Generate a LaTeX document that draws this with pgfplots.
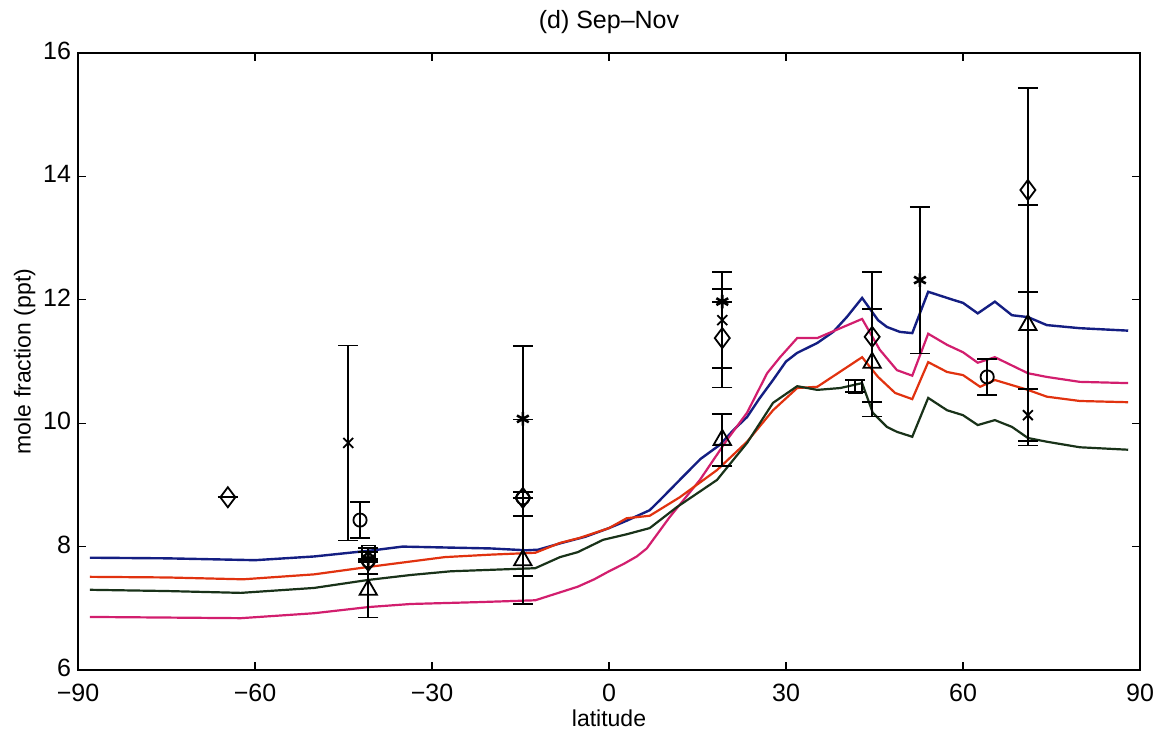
\documentclass[border=0pt]{standalone}
\usepackage{pgfplots}
\pgfplotsset{compat=1.18}
\usepackage{fontspec}
\setmainfont{Liberation Sans}
\definecolor{cblue}{RGB}{20,30,130}
\definecolor{cred}{RGB}{225,50,15}
\definecolor{cpink}{RGB}{210,30,110}
\definecolor{cgreen}{RGB}{25,50,25}
\begin{document}
\begin{tikzpicture}
\useasboundingbox (-39pt,-32pt) rectangle (541pt,335pt);
\begin{axis}[
  scale only axis, width=531pt, height=308.5pt,
  xmin=-90, xmax=90, ymin=6, ymax=16,
  xtick={-90,-60,...,90}, ytick={6,8,...,16},
  xticklabels={−90,−60,−30,0,30,60,90},
  tick align=inside, major tick length=4pt,
  axis line style={line width=0.7pt}, tick style={line width=0.6pt, black},
  /pgf/number format/assume math mode=true,
  ticklabel style={font=\fontsize{12.5}{14}\selectfont},
  xticklabel style={yshift=-3.5pt},
  yticklabel style={yshift=1pt},
  xlabel={latitude}, ylabel={mole fraction (ppt)},
  label style={font=\fontsize{11.5}{13}\selectfont},
  xlabel style={yshift=3pt},
  ylabel style={yshift=-3pt},
  title={(d) Sep\textendash Nov},
  title style={font=\fontsize{12.5}{14}\selectfont, yshift=0pt},
  clip=false,
]
% model lines
\addplot[cblue, line width=1.2pt] coordinates {(-88,7.82) (-75,7.81) (-60,7.78) (-50,7.84) (-40,7.94) (-35,8.0) (-30,7.99) (-20,7.97) (-14,7.94) (-12,7.95) (-8,8.06) (-4,8.16) (0,8.3) (3,8.42) (6.9,8.59) (8.6,8.75) (12.5,9.13) (15.5,9.42) (18.8,9.65) (21,9.88) (23.4,10.1) (25.5,10.4) (27.8,10.7) (30,11.0) (31.9,11.14) (35.3,11.3) (38,11.48) (40.3,11.72) (42.9,12.03) (45.6,11.67) (47.1,11.56) (49.3,11.48) (51.4,11.46) (54.1,12.13) (58.3,12.0) (60,11.95) (62.5,11.78) (65.4,11.97) (68.3,11.75) (71,11.72) (74.2,11.59) (79.8,11.54) (88,11.5)};
\addplot[cpink, line width=1.1pt] coordinates {(-88,6.86) (-75,6.85) (-62.4,6.84) (-50,6.92) (-40.8,7.02) (-33.6,7.07) (-22.2,7.1) (-12.5,7.13) (-5.3,7.35) (-2.5,7.47) (0,7.6) (2.5,7.72) (4.7,7.84) (6.4,7.97) (10.3,8.48) (15.4,9.08) (20,9.73) (23.4,10.17) (26.8,10.81) (29,11.07) (31.9,11.38) (35.3,11.38) (42.9,11.69) (45.9,11.19) (48.8,10.86) (51.4,10.77) (54.1,11.45) (57.3,11.27) (60,11.15) (62.5,10.98) (65.4,11.07) (71,10.81) (74.2,10.75) (79.8,10.67) (88,10.65)};
\addplot[cred, line width=1.1pt] coordinates {(-88,7.51) (-75,7.5) (-62,7.47) (-50,7.55) (-40.8,7.67) (-27.8,7.83) (-20,7.87) (-12.5,7.9) (-8.3,8.06) (-5,8.14) (0,8.3) (3,8.46) (6.9,8.5) (12,8.8) (18.3,9.24) (23.4,9.7) (27.8,10.21) (31.9,10.57) (35.3,10.59) (42.9,11.07) (45.6,10.75) (48.5,10.49) (51.4,10.39) (54.1,10.99) (57.3,10.83) (60,10.78) (62.9,10.59) (65.4,10.7) (71,10.54) (74.2,10.43) (79.8,10.36) (88,10.34)};
\addplot[cgreen, line width=1.1pt] coordinates {(-88,7.30) (-75,7.28) (-62.4,7.25) (-50,7.33) (-40.8,7.46) (-33.6,7.54) (-26.8,7.6) (-12.5,7.65) (-8.3,7.83) (-5.3,7.91) (-1,8.11) (3,8.2) (6.9,8.3) (11.5,8.64) (18.3,9.08) (23.4,9.68) (27.8,10.33) (31.9,10.6) (35.3,10.54) (39.2,10.57) (42.9,10.65) (44.7,10.17) (47.1,9.94) (48.8,9.86) (51.4,9.78) (54.1,10.41) (57.3,10.21) (60,10.13) (62.5,9.97) (65.4,10.05) (68.3,9.94) (71,9.76) (74.2,9.7) (79.8,9.61) (88,9.57)};
% observations
\pgfplotsset{obs/.style={only marks, black, line width=0.9pt, mark options={solid, black, fill=white, line width=0.9pt},
  error bars/.cd, y dir=both, y explicit, error bar style={line width=0.9pt, black},
  error mark options={rotate=90, mark size=5pt, line width=0.9pt, black}, /pgfplots/.cd}}
% diamonds
\addplot[obs, mark=diamond, mark size=5pt] coordinates {(-64.6,8.80) +- (0,0) (-40.8,7.77) +- (0,0.21) (-14.6,8.79) +- (0,0) (19.2,11.38) +- (0,0.8) (44.6,11.4) +- (0,1.05) (71.0,13.78) +- (0,1.65)};
% circles
\addplot[obs, mark=o, mark size=3.3pt] coordinates {(-42.2,8.43) +- (0,0.29) (-40.8,7.77) +- (0,0) (-14.6,8.79) +- (0,1.27) (64.1,10.75) +- (0,0.29)};
% triangles
\addplot[obs, mark=triangle, mark size=5pt] coordinates {(-40.8,7.30) +- (0,0.45) (-14.6,7.78) +- (0,0.71) (19.2,9.73) +- (0,0.42) (44.6,10.98) +- (0,0.87) (71.0,11.59) +- (0,1.95)};
% x marks
\addplot[obs, mark=x, mark size=3.5pt] coordinates {(-44.2,9.68) +- (0,1.58) (19.2,11.67) +- (0,0.78) (71.0,10.13) +- (0,0.42)};
% asterisks
\addplot[obs, mark=asterisk, mark size=3.4pt, mark options={line width=1.3pt}] coordinates {(-40.8,7.80) +- (0,0) (-14.6,10.07) +- (0,1.18) (19.2,11.97) +- (0,0) (52.7,12.32) +- (0,1.19)};
% squares
\addplot[obs, mark=square, mark size=3.3pt] coordinates {(-40.8,7.91) +- (0,0) (41.7,10.6) +- (0,0.1)};
\end{axis}
\end{tikzpicture}
\end{document}
